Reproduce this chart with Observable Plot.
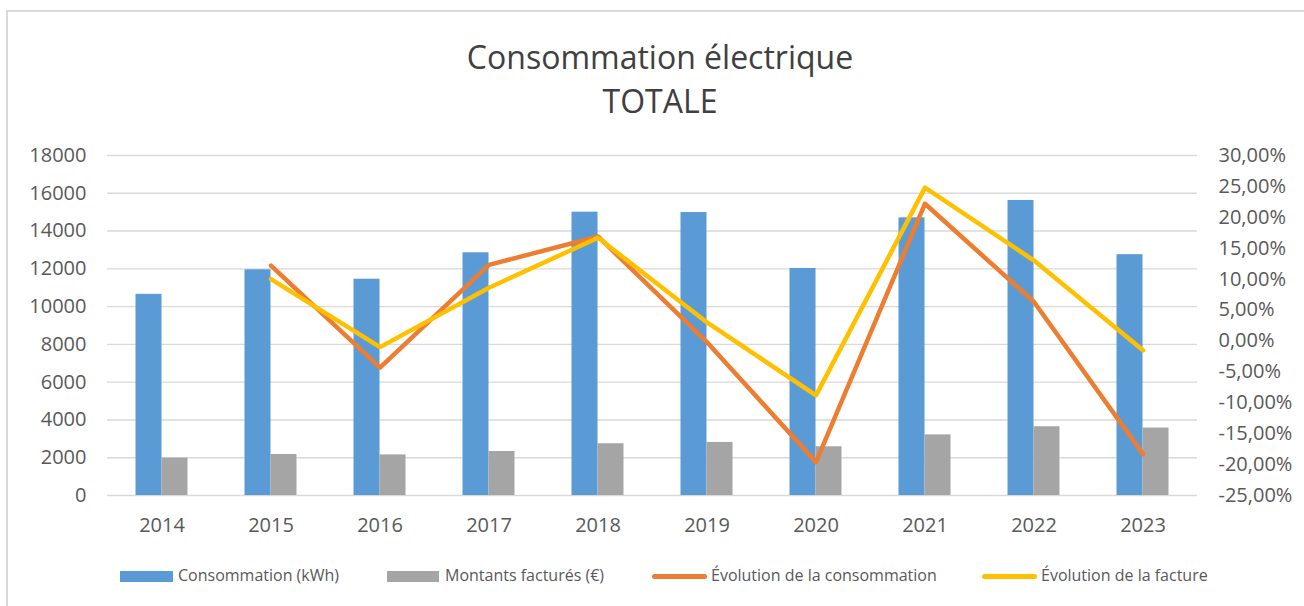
<!DOCTYPE html>
<html>
<head>
<meta charset="utf-8">
<script src="https://cdn.jsdelivr.net/npm/d3@7"></script>
<script src="https://cdn.jsdelivr.net/npm/@observablehq/plot@0.6"></script>
<style>
  html, body { margin: 0; padding: 0; background: #fff; }
  #wrap { position: relative; width: 1304px; height: 606px; overflow: hidden; font-family: "Open Sans", sans-serif; }
  #border { position: absolute; left: 6px; top: 10px; width: 1400px; height: 700px; border: 2px solid #d9d9d9; box-sizing: border-box; }
  #title { position: absolute; left: 0; top: 35px; width: 1320px; text-align: center; font-size: 32px; line-height: 44px; color: #404040; }
  #chart { position: absolute; left: 0; top: 0; }
  .lg { position: absolute; font-size: 16px; line-height: 20px; top: 565px; color: #595959; white-space: nowrap; }
  .sw { position: absolute; top: 571px; height: 11px; }
  .ln { position: absolute; top: 574px; height: 5px; border-radius: 3px; }
</style>
</head>
<body>
<div id="wrap">
  <div id="border"></div>
  <div id="chart"></div>
  <div id="title">Consommation électrique<br>TOTALE</div>
  <div id="legend"></div>
</div>
<script>
const years = ["2014", "2015", "2016", "2017", "2018", "2019", "2020", "2021", "2022", "2023"];
const consommation = [10650, 11950, 11450, 12850, 15000, 14980, 12020, 14700, 15620, 12750];
const montants = [1980, 2170, 2150, 2330, 2740, 2810, 2580, 3210, 3640, 3570];
const evolutionConso = [null, 12.2, -4.3, 12.3, 16.9, -0.2, -19.6, 22.2, 6.3, -18.3];
const evolutionFacture = [null, 10.0, -1.0, 8.6, 16.7, 3.0, -8.8, 24.8, 13.0, -1.5];
const leftTicks = [0, 2000, 4000, 6000, 8000, 10000, 12000, 14000, 16000, 18000];
const rightTicks = [-25, -20, -15, -10, -5, 0, 5, 10, 15, 20, 25, 30];
const seriesNames = ["Consommation (kWh)", "Montants facturés (€)", "Évolution de la consommation", "Évolution de la facture"];
const colors = ["#5B9BD5", "#A5A5A5", "#ED7D31", "#FFC000"];

const leftMax = 18000, rightMin = -25, rightMax = 30;
const toLeft = p => (p - rightMin) / (rightMax - rightMin) * leftMax;
const fromLeft = v => v / leftMax * (rightMax - rightMin) + rightMin;

const bars = years.map((y, i) => ({year: y, conso: consommation[i], montant: montants[i]}));
const evoC = years.map((y, i) => ({year: y, v: evolutionConso[i]})).filter(d => d.v !== null);
const evoF = years.map((y, i) => ({year: y, v: evolutionFacture[i]})).filter(d => d.v !== null);

const plot = Plot.plot({
  width: 1304,
  height: 606,
  marginTop: 155,
  marginBottom: 111,
  marginLeft: 107,
  marginRight: 107,
  style: {fontFamily: "Open Sans, sans-serif", background: "transparent", color: "#595959"},
  x: {type: "band", domain: years, paddingInner: 0, paddingOuter: 0},
  y: {domain: [0, leftMax]},
  marks: [
    Plot.ruleY(leftTicks, {stroke: "#d9d9d9", strokeWidth: 1.4}),
    Plot.barY(bars, {x: "year", y: "conso", fill: colors[0], insetLeft: 28.5, insetRight: 54.5}),
    Plot.barY(bars, {x: "year", y: "montant", fill: colors[1], insetLeft: 54.5, insetRight: 28.5}),
    Plot.line(evoC, {x: "year", y: d => toLeft(d.v), stroke: colors[2], strokeWidth: 4.5, strokeLinecap: "round", strokeLinejoin: "round"}),
    Plot.line(evoF, {x: "year", y: d => toLeft(d.v), stroke: colors[3], strokeWidth: 4.5, strokeLinecap: "round", strokeLinejoin: "round"}),
    Plot.axisY(leftTicks, {anchor: "left", tickSize: 0, tickPadding: 21, fontSize: 20, fill: "#595959", label: null,
      tickFormat: v => String(v)}),
    Plot.axisY(rightTicks.map(toLeft), {anchor: "right", tickSize: 0, tickPadding: 21, fontSize: 20, fill: "#595959", label: null,
      tickFormat: v => Math.round(fromLeft(v)).toFixed(2).replace(".", ",") + "%"}),
    Plot.axisX({tickSize: 0, tickPadding: 22, fontSize: 20, fill: "#595959", label: null})
  ]
});
document.getElementById("chart").appendChild(plot);

// legend
const legend = document.getElementById("legend");
const items = [
  {type: "sw", x0: 120, x1: 173, tx: 178},
  {type: "sw", x0: 387, x1: 439, tx: 445},
  {type: "ln", x0: 652, x1: 707, tx: 711},
  {type: "ln", x0: 982, x1: 1037, tx: 1041}
];
items.forEach((it, i) => {
  const s = document.createElement("div");
  s.className = it.type;
  s.style.left = it.x0 + "px";
  s.style.width = (it.x1 - it.x0) + "px";
  s.style.background = colors[i];
  legend.appendChild(s);
  const t = document.createElement("div");
  t.className = "lg";
  t.style.left = it.tx + "px";
  t.textContent = seriesNames[i];
  legend.appendChild(t);
});
</script>
</body>
</html>
